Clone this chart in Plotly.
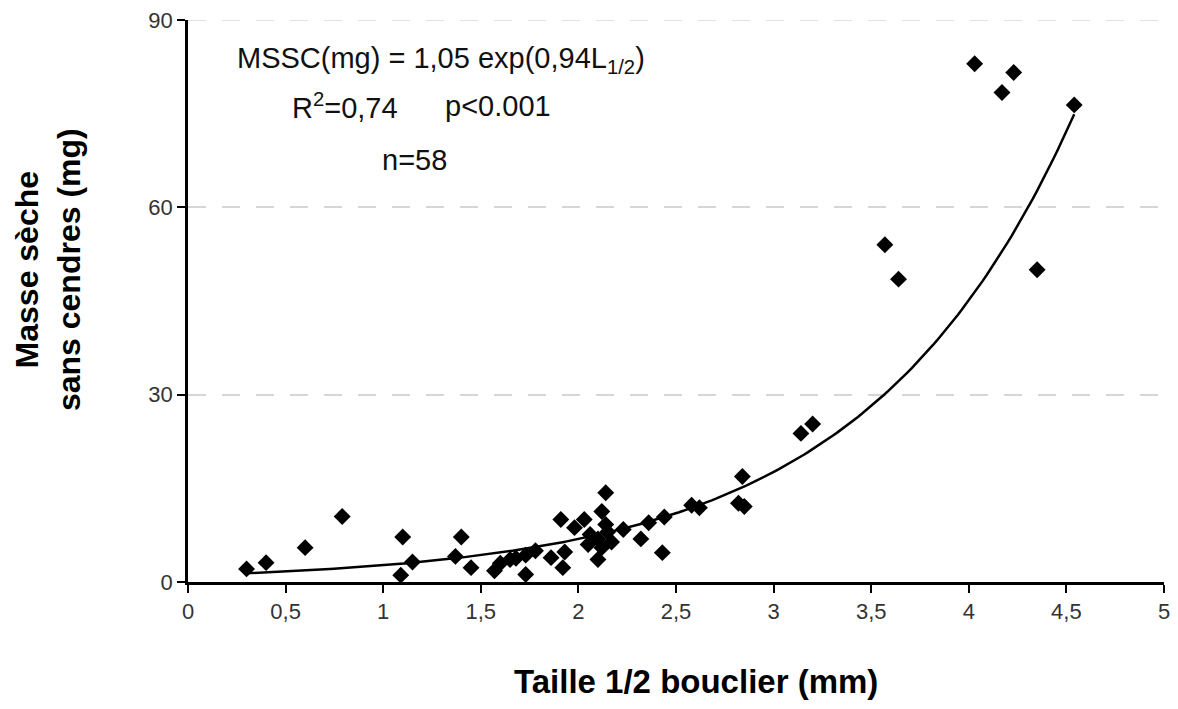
import numpy as np
import plotly.graph_objects as go

# --- data ---
taille = [0.30, 0.40, 0.60, 0.79, 1.10, 1.15, 1.09, 1.40, 1.37, 1.45,
          1.57, 1.60, 1.65, 1.73, 1.73, 1.78, 1.86, 1.92, 1.93, 1.91,
          1.98, 2.03, 2.14, 2.12, 2.14, 2.06, 2.10, 2.17, 2.10, 2.23,
          2.32, 2.36, 2.44, 2.43, 2.58, 2.62, 2.84, 2.82, 2.85, 3.14,
          3.20, 3.57, 3.64, 4.03, 4.23, 4.17, 4.54, 4.35,
          2.05, 2.15, 2.12, 1.68]
masse = [2.1, 3.1, 5.5, 10.5, 7.2, 3.2, 1.1, 7.2, 4.1, 2.3,
         1.8, 3.0, 3.6, 1.2, 4.3, 5.0, 3.9, 2.3, 4.8, 10.0,
         8.7, 10.0, 14.3, 11.3, 9.2, 7.6, 6.9, 6.4, 3.6, 8.4,
         6.9, 9.5, 10.4, 4.7, 12.3, 11.9, 16.9, 12.6, 12.1, 23.8,
         25.3, 54.0, 48.5, 83.0, 81.6, 78.4, 76.4, 50.0,
         6.0, 8.0, 5.5, 3.8]

# trendline from the equation printed on the chart: MSSC = a * exp(b * L)
coef_a = 1.05
coef_b = 0.94
fit_xmin, fit_xmax = 0.30, 4.54

x_ticks = [0, 0.5, 1, 1.5, 2, 2.5, 3, 3.5, 4, 4.5, 5]
x_ticklabels = ["0", "0,5", "1", "1,5", "2", "2,5", "3", "3,5", "4", "4,5", "5"]
y_ticks = [0, 30, 60, 90]

fit_x = np.linspace(fit_xmin, fit_xmax, 200)
fit_y = coef_a * np.exp(coef_b * fit_x)

FONT = "Liberation Sans, Arial, sans-serif"

fig = go.Figure()
fig.add_trace(go.Scatter(x=fit_x, y=fit_y, mode="lines",
                         line=dict(color="black", width=2.5),
                         hoverinfo="skip", showlegend=False))
fig.add_trace(go.Scatter(x=taille, y=masse, mode="markers",
                         marker=dict(symbol="diamond", size=13, color="black",
                                     line=dict(width=0)),
                         showlegend=False))

# page has an 8px body margin; figure sized so the page never scrolls
FIG_W, FIG_H = 1162, 693
PLOT_L, PLOT_R = 188, 1164   # page pixels of x=0 and x=5
PLOT_T, PLOT_B = 19.5, 582.5  # page pixels of y=90 and y=0
fig.update_layout(
    width=FIG_W, height=FIG_H,
    margin=dict(l=PLOT_L - 8, r=FIG_W + 8 - PLOT_R, t=PLOT_T - 8,
                b=FIG_H + 8 - PLOT_B),
    paper_bgcolor="white", plot_bgcolor="white",
    font=dict(family=FONT, color="#333", size=22),
    showlegend=False,
)
fig.update_xaxes(range=[0, 5], tickvals=x_ticks, ticktext=x_ticklabels,
                 showgrid=False, zeroline=False, automargin=False,
                 showline=True, linecolor="black", linewidth=2.5,
                 ticks="outside", ticklen=8, tickwidth=1.5, tickcolor="black",
                 ticklabeloverflow="allow",
                 tickfont=dict(size=22, color="#333"))
fig.update_yaxes(range=[0, 90], tickvals=y_ticks,
                 showgrid=True, gridcolor="#d6d6d6", gridwidth=1.5,
                 griddash="18px,16px", zeroline=False, automargin=False,
                 showline=True, linecolor="black", linewidth=2.5,
                 ticks="outside", ticklen=8, tickwidth=1.5, tickcolor="black",
                 ticklabeloverflow="allow",
                 tickfont=dict(size=22, color="#333"))

# top gridline (plotly skips the gridline lying on the plot edge)
fig.add_shape(type="line", xref="paper", x0=0, x1=1, yref="y",
              y0=y_ticks[-1], y1=y_ticks[-1], layer="below",
              line=dict(color="#d6d6d6", width=1.5, dash="18px,16px"))

def px_x(p):
    return (p - PLOT_L) / (PLOT_R - PLOT_L)

def px_y(p):
    return (PLOT_B - p) / (PLOT_B - PLOT_T)

ann = []
ann.append(dict(text="Taille 1/2 bouclier (mm)", x=px_x(696), y=px_y(682),
                xref="paper", yref="paper", showarrow=False,
                xanchor="center", yanchor="middle",
                font=dict(size=33, color="black", family=FONT, weight="bold")))
ann.append(dict(text="Masse sèche<br>sans cendres (mg)", x=px_x(48), y=px_y(270),
                xref="paper", yref="paper", showarrow=False, textangle=-90,
                xanchor="center", yanchor="middle",
                font=dict(size=32, color="black", family=FONT, weight="bold")))
ann.append(dict(text="MSSC(mg) = 1,05 exp(0,94L<sub>1/2</sub>)", x=px_x(235), y=px_y(60),
                xref="paper", yref="paper", showarrow=False,
                xanchor="left", yanchor="middle",
                font=dict(size=29, color="#111", family=FONT)))
ann.append(dict(text="R<sup>2</sup>=0,74", x=px_x(290), y=px_y(106),
                xref="paper", yref="paper", showarrow=False,
                xanchor="left", yanchor="middle",
                font=dict(size=29, color="#111", family=FONT)))
ann.append(dict(text="p<0.001", x=px_x(443), y=px_y(106),
                xref="paper", yref="paper", showarrow=False,
                xanchor="left", yanchor="middle",
                font=dict(size=29, color="#111", family=FONT)))
ann.append(dict(text="n=58", x=px_x(380), y=px_y(160),
                xref="paper", yref="paper", showarrow=False,
                xanchor="left", yanchor="middle",
                font=dict(size=29, color="#111", family=FONT)))
fig.update_layout(annotations=ann)

fig.write_html("out.html")
